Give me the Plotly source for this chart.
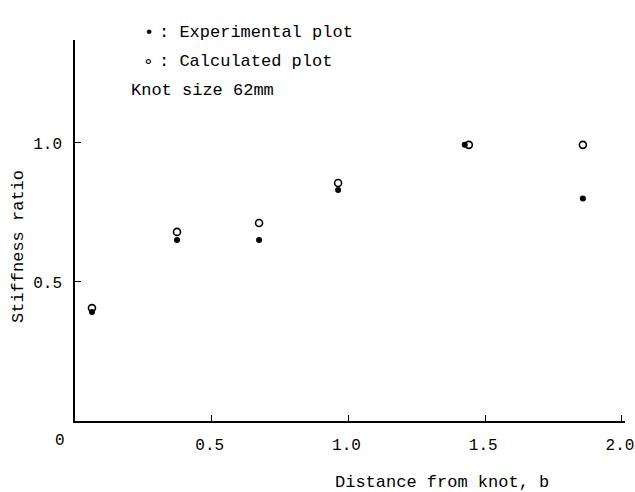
import plotly.graph_objects as go

# Data
exp_x = [0.062, 0.373, 0.673, 0.962, 1.425, 1.857]
exp_y = [0.392, 0.651, 0.651, 0.831, 0.993, 0.80]
calc_x = [0.062, 0.373, 0.673, 0.962, 1.44, 1.857]
calc_y = [0.406, 0.68, 0.712, 0.856, 0.993, 0.993]

x_tickvals = [0.5, 1.0, 1.5, 2.0]
x_ticktext = ["0.5", "1.0", "1.5", "2.0"]
y_tickvals = [0.5, 1.0]
y_ticktext = ["0.5", "1.0"]

FONT = "Liberation Mono"
FS = 17
W, H = 635, 492
L, R, T, B = 75, 10, 40, 71
PW, PH = W - L - R, H - T - B


def px(xp):
    return (xp - L) / PW


def py(yp):
    return 1 - (yp - T) / PH


fig = go.Figure()
fig.add_trace(go.Scatter(x=exp_x, y=exp_y, mode="markers",
                         marker=dict(symbol="circle", size=6, color="black"),
                         name="Experimental plot", showlegend=False))
fig.add_trace(go.Scatter(x=calc_x, y=calc_y, mode="markers",
                         marker=dict(symbol="circle-open", size=7, color="black",
                                     line=dict(width=1.6, color="black")),
                         name="Calculated plot", showlegend=False))

fig.update_layout(
    width=W, height=H,
    margin=dict(l=L, r=R, t=T, b=B),
    paper_bgcolor="white", plot_bgcolor="white",
    font=dict(family=FONT, size=FS, color="black"),
    xaxis=dict(range=[0, 2.011], tickvals=x_tickvals, ticktext=x_ticktext,
               ticks="inside", ticklen=6, tickwidth=1, tickcolor="black",
               showline=True, linecolor="black", linewidth=1.5,
               showgrid=False, zeroline=False, ticklabelstandoff=8,
               tickfont=dict(size=16), ticklabelshift=-2,
               automargin=False, ticklabeloverflow="allow"),
    yaxis=dict(range=[0, 1.37], tickvals=y_tickvals, ticktext=y_ticktext,
               ticks="inside", ticklen=6, tickwidth=1, tickcolor="black",
               showline=True, linecolor="black", linewidth=1.5,
               showgrid=False, zeroline=False, ticklabelstandoff=8,
               tickfont=dict(size=16),
               automargin=False, ticklabeloverflow="allow"),
)

# origin label
fig.add_annotation(x=px(60), y=py(441), xref="paper", yref="paper", text="0",
                   showarrow=False, xanchor="center", yanchor="middle",
                   font=dict(size=16))

# axis titles
fig.add_annotation(x=px(442), y=py(482), xref="paper", yref="paper",
                   text="Distance from knot, b", showarrow=False,
                   xanchor="center", yanchor="middle")
fig.add_annotation(x=px(18), y=py(247), xref="paper", yref="paper",
                   text="Stiffness ratio", showarrow=False, textangle=-90,
                   xanchor="center", yanchor="middle")

# legend text
fig.add_annotation(x=px(149), y=py(33), xref="paper", yref="paper", text="•",
                   showarrow=False, xanchor="center", yanchor="middle")
fig.add_annotation(x=px(148), y=py(61), xref="paper", yref="paper", text="∘",
                   showarrow=False, xanchor="center", yanchor="middle")
fig.add_annotation(x=px(157), y=py(33), xref="paper", yref="paper",
                   text=": Experimental plot", showarrow=False,
                   xanchor="left", yanchor="middle")
fig.add_annotation(x=px(157), y=py(61), xref="paper", yref="paper",
                   text=": Calculated plot", showarrow=False,
                   xanchor="left", yanchor="middle")
fig.add_annotation(x=px(129), y=py(90), xref="paper", yref="paper",
                   text="Knot size 62mm", showarrow=False,
                   xanchor="left", yanchor="middle")

fig.write_html("out.html", config={"displayModeBar": False},
               post_script="document.body.style.margin='0px';document.body.style.padding='0px';")
